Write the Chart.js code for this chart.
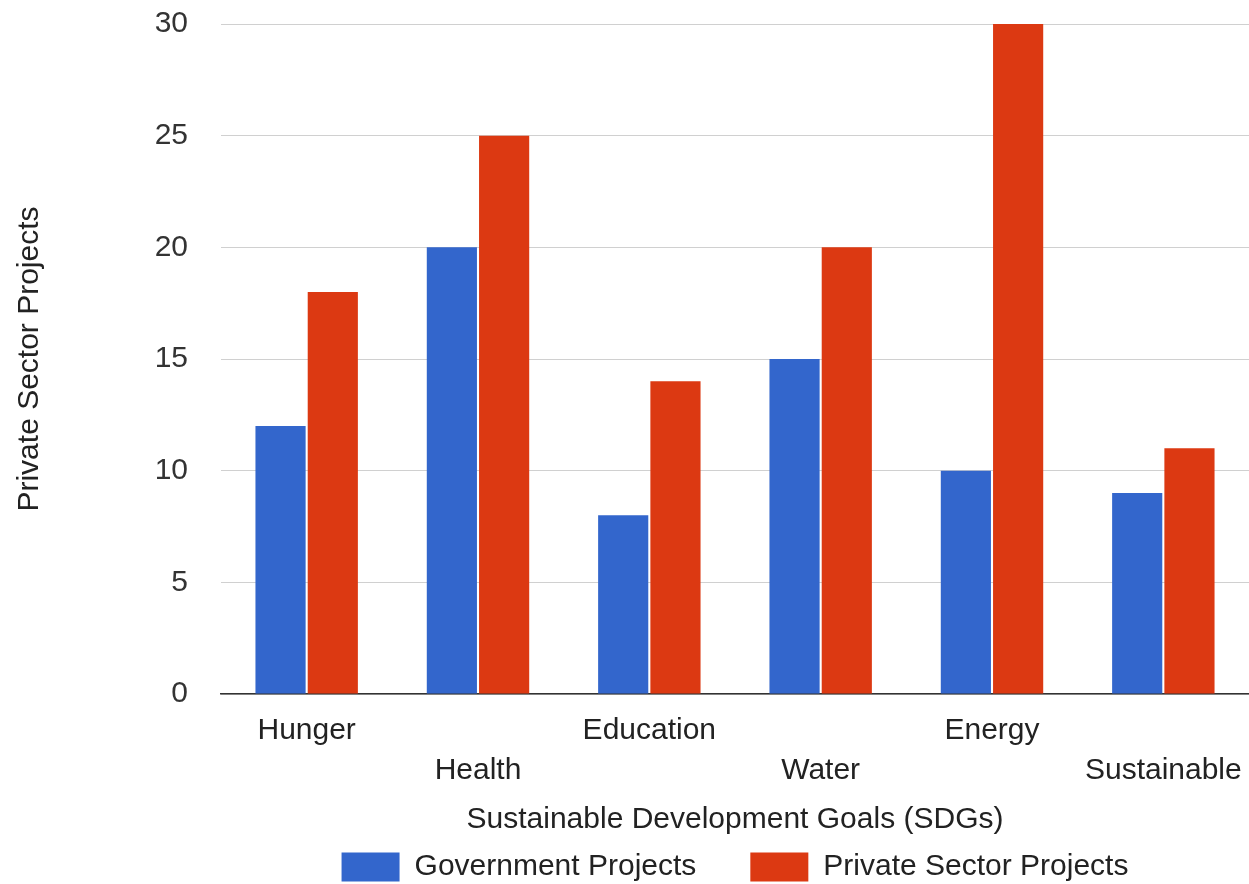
<!DOCTYPE html>
<html>
<head>
<meta charset="utf-8">
<title>SDG Projects</title>
<script src="https://cdn.jsdelivr.net/npm/chart.js@4.4.1/dist/chart.umd.min.js"></script>
<style>
  html, body { margin: 0; padding: 0; background: #fff; }
  #wrap { width: 1249px; height: 884px; position: relative; }
</style>
</head>
<body>
<div id="wrap"><canvas id="chart"></canvas></div>
<script>
// Categories and series
const categories = ['Hunger', 'Health', 'Education', 'Water', 'Energy', 'Sustainable'];
const governmentProjects = [12, 20, 8, 15, 10, 9];
const privateSectorProjects = [18, 25, 14, 20, 30, 11];
const yTicks = [0, 5, 10, 15, 20, 25, 30];

const FONT = "'Liberation Sans', Arial, sans-serif";
const FS = 30;

// Alternate category names between two rows so they do not collide
const staggered = categories.map((c, i) => (i % 2 === 0 ? [c, ''] : ['', c]));

// Centre the legend under the plot area and sit it near the bottom edge
const legendPlacement = {
  id: 'legendPlacement',
  afterLayout(chart) {
    const lg = chart.legend;
    if (!lg) return;
    const area = chart.chartArea;
    const dx = (area.left + area.right) / 2 - (lg.left + lg.right) / 2;
    lg.left += dx;
    lg.right += dx;
    const pad = lg.options.labels.padding;
    lg.top = 852 - pad;
    lg.bottom = chart.height;
  }
};

new Chart(document.getElementById('chart'), {
  type: 'bar',
  data: {
    labels: staggered,
    datasets: [
      { label: 'Government Projects', data: governmentProjects, backgroundColor: '#3366CC', borderWidth: 0 },
      { label: 'Private Sector Projects', data: privateSectorProjects, backgroundColor: '#DC3912', borderWidth: 0 }
    ]
  },
  options: {
    responsive: true,
    maintainAspectRatio: false,
    animation: false,
    layout: { padding: { top: 24, left: 0, right: 0, bottom: 0 } },
    datasets: { bar: { categoryPercentage: 0.61, barPercentage: 0.96 } },
    plugins: {
      tooltip: { enabled: false },
      legend: {
        position: 'bottom',
        maxHeight: 40,
        labels: { boxWidth: 58, boxHeight: 29, padding: 54, color: '#222', font: { family: FONT, size: FS } }
      }
    },
    scales: {
      x: {
        afterFit(scale) { scale.paddingLeft = 0; scale.paddingRight = 0; },
        grid: { display: false, drawTicks: false },
        border: { display: true, color: '#333', width: 1.5 },
        ticks: { color: '#222', padding: 17, autoSkip: false, maxRotation: 0, minRotation: 0,
                 font: { family: FONT, size: FS, lineHeight: 40 / FS } },
        title: { display: true, text: 'Sustainable Development Goals (SDGs)', color: '#222',
                 font: { family: FONT, size: FS }, padding: { top: -6, bottom: 6 } }
      },
      y: {
        min: 0, max: 30,
        afterBuildTicks(scale) { scale.ticks = yTicks.map(v => ({ value: v })); },
        afterFit(scale) { scale.width = 221; scale.paddingTop = 0; scale.paddingBottom = 0; },
        grid: { color: '#d0d0d0', lineWidth: 1, drawTicks: false },
        border: { display: false },
        ticks: { color: '#333', padding: 33, font: { family: FONT, size: FS } },
        title: { display: true, text: 'Private Sector Projects', color: '#222',
                 font: { family: FONT, size: FS }, padding: { top: 12, bottom: 0 } }
      }
    }
  },
  plugins: [legendPlacement]
});
</script>
</body>
</html>
